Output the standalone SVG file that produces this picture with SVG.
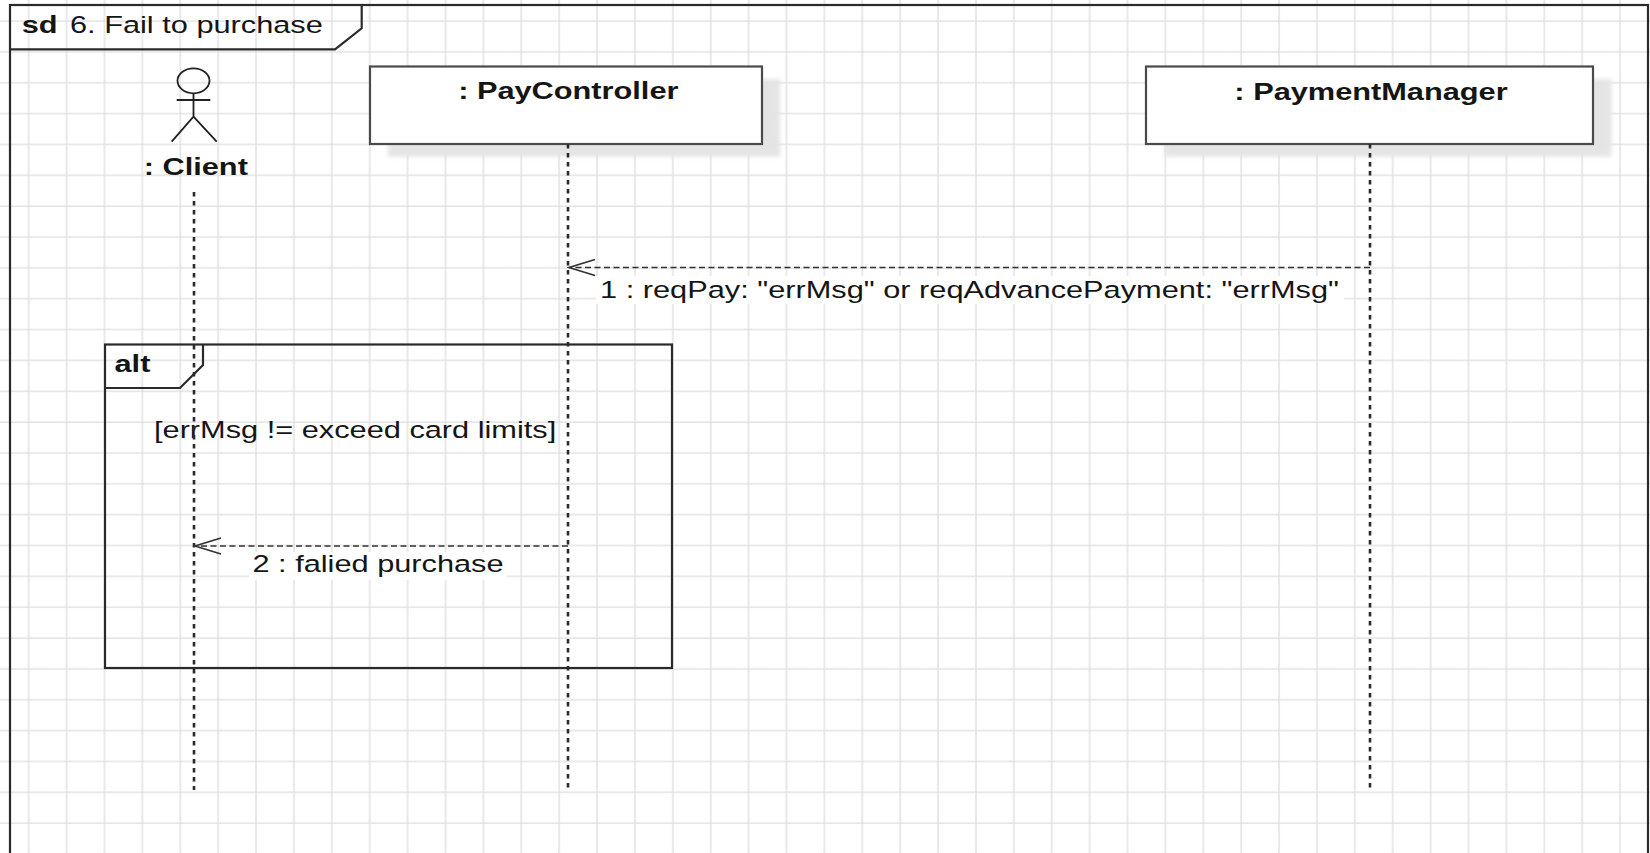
<svg xmlns="http://www.w3.org/2000/svg" width="1650" height="853" viewBox="0 0 1650 853">
<defs>
<style>
.t{font-family:"Liberation Sans",Arial,sans-serif;font-size:24.7px;fill:#151515}
.b{font-weight:bold}
.frame{fill:none;stroke:#2a2a2a;stroke-width:2.2}
.box{fill:#fff;stroke:#4a4a4a;stroke-width:2.2}
.shadow{fill:#e4e4e4;filter:url(#blur)}
.life{fill:none;stroke:#2a2a2a;stroke-width:2.6;stroke-dasharray:4.5 4.5}
.msg{fill:none;stroke:#333;stroke-width:1.7;stroke-dasharray:6 3.5;marker-end:url(#open)}
.actor{fill:none;stroke:#222;stroke-width:1.8}
.lblbg{fill:#fff}
</style>
<pattern id="grid" x="18.7" y="11" width="37.89" height="30.85" patternUnits="userSpaceOnUse">
<path d="M10 0V30.85M0 10H37.89" stroke="#dedede" stroke-width="1.3" fill="none"/>
</pattern>
<filter id="blur" x="-10%" y="-10%" width="120%" height="140%"><feGaussianBlur stdDeviation="2"/></filter>
<marker id="open" viewBox="0 0 30 20" markerWidth="30" markerHeight="20" refX="28" refY="10" orient="auto" markerUnits="userSpaceOnUse">
<path d="M2 2L28 10L2 18" fill="none" stroke="#333" stroke-width="1.8"/>
</marker>
</defs>
<rect width="1650" height="853" fill="#fff"/>
<rect width="1650" height="853" fill="url(#grid)"/>

<g id="frame">
<rect class="frame" x="10" y="5" width="1638" height="860"/>
<path class="frame" d="M10 49.3H335L361.7 28.3V5"/>
<text class="t" transform="translate(21.7,33.3) scale(1.245,1)"><tspan class="b">sd</tspan><tspan x="38.8">6. Fail to purchase</tspan></text>
</g>

<g id="alt">
<rect class="frame" x="105" y="344.5" width="567" height="323.5"/>
<path class="frame" d="M105 388H180L203 365V344.5"/>
<text class="t b" transform="translate(114.5,372) scale(1.245,1)">alt</text>
<text class="t" transform="translate(154,438) scale(1.245,1)">[errMsg != exceed card limits]</text>
</g>

<g id="client">
<ellipse class="actor" cx="193.5" cy="80.8" rx="16" ry="12.5"/>
<path class="actor" d="M193.5 93.3V116.7M176.7 100H210.3M171.7 141.7L193.5 116.7L216.7 141.7"/>
<text class="t b" text-anchor="middle" transform="translate(195.8,175) scale(1.245,1)">: Client</text>
<line class="life" x1="194" y1="192" x2="194" y2="790"/>
</g>

<g id="paycontroller">
<rect class="shadow" x="388" y="79" width="392" height="77.5"/>
<rect class="box" x="370" y="66.5" width="392" height="77.5"/>
<text class="t b" text-anchor="middle" transform="translate(568.3,99.3) scale(1.245,1)">: PayController</text>
<line class="life" x1="568" y1="144" x2="568" y2="790"/>
</g>

<g id="paymentmanager">
<rect class="shadow" x="1164.5" y="79" width="447" height="77.5"/>
<rect class="box" x="1146" y="66.5" width="447" height="77.5"/>
<text class="t b" text-anchor="middle" transform="translate(1371,100) scale(1.245,1)">: PaymentManager</text>
<line class="life" x1="1370" y1="144" x2="1370" y2="790"/>
</g>

<g id="connectors">
<line class="msg" x1="1370" y1="267.5" x2="569" y2="267.5"/>
<rect class="lblbg" x="596" y="276" width="748" height="28"/>
<text class="t" text-anchor="middle" transform="translate(969.5,298) scale(1.245,1)">1 : reqPay: "errMsg" or reqAdvancePayment: "errMsg"</text>
<line class="msg" x1="568" y1="546" x2="195" y2="546"/>
<rect class="lblbg" x="249" y="552" width="258" height="28"/>
<text class="t" text-anchor="middle" transform="translate(378,572) scale(1.245,1)">2 : falied purchase</text>
</g>
</svg>
